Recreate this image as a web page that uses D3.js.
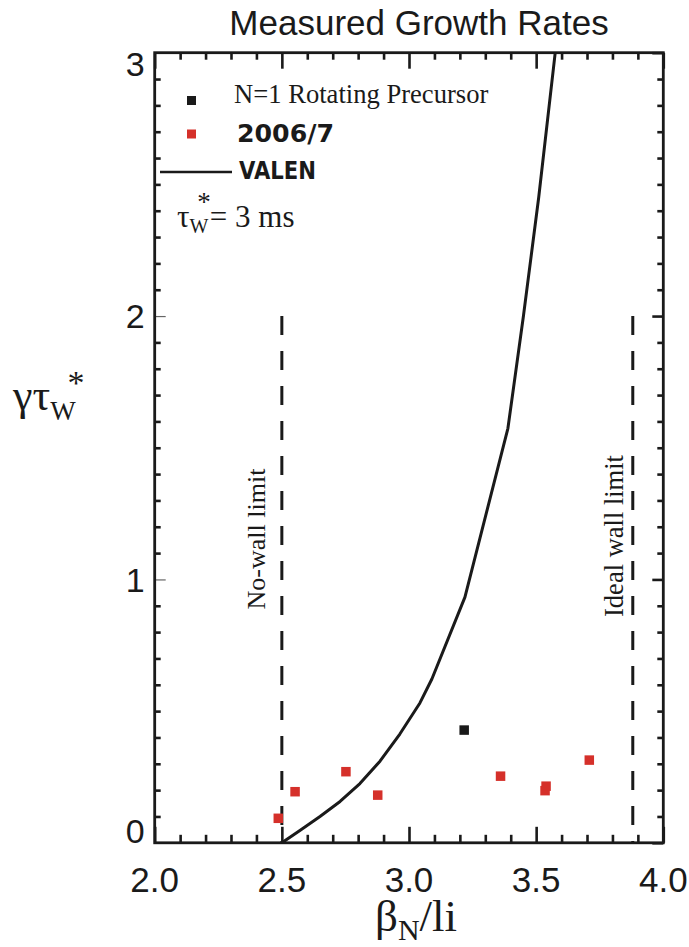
<!DOCTYPE html>
<html>
<head>
<meta charset="utf-8">
<script src="https://cdn.jsdelivr.net/npm/d3@7"></script>
<style>
  body { margin: 0; background: #fff; }
  svg text { fill: #1a1a1a; }
</style>
</head>
<body>
<div id="chart"></div>
<script>
// ---- data ----
const xTickValues = [2.0, 2.5, 3.0, 3.5, 4.0];
const xTickLabels = ["2.0", "2.5", "3.0", "3.5", "4.0"];
const yTickValues = [0, 1, 2, 3];
const yTickLabels = ["0", "1", "2", "3"];

const precursorBeta = [3.217];
const precursorGrowth = [0.428];

const measuredBeta = [2.486, 2.552, 2.752, 2.877, 3.360, 3.535, 3.539, 3.709];
const measuredGrowth = [0.093, 0.194, 0.270, 0.181, 0.253, 0.198, 0.215, 0.314];

const valenBeta = [2.5, 2.571, 2.650, 2.729, 2.807, 2.886, 2.964, 3.043, 3.090, 3.220, 3.389, 3.45, 3.51, 3.575, 3.60];
const valenGrowth = [0, 0.047, 0.100, 0.157, 0.225, 0.310, 0.413, 0.531, 0.622, 0.933, 1.574, 2.0, 2.45, 3.0, 3.2];

const wallBeta = [2.5, 3.88];
const wallTop = [2.0, 2.0];
const wallLabels = ["No-wall limit", "Ideal wall limit"];

let svg;
let canvasWidth = 689, canvasHeight = 947;
let margin = { top: 52.7, right: 25.7, bottom: 104.2, left: 154.7 };
let graphWidth = canvasWidth - margin.left - margin.right;
let graphHeight = canvasHeight - margin.top - margin.bottom;

const sans = "'Liberation Sans', Arial, Helvetica, sans-serif";
const serif = "'Liberation Serif', 'Times New Roman', serif";
const red = "#d5302a";
const ink = "#1a1a1a";

window.addEventListener("load", function () {
    svg = d3.select("#chart")
        .append("svg")
        .attr("width", canvasWidth)
        .attr("height", canvasHeight);

    const x = d3.scaleLinear().domain([2, 4]).range([0, graphWidth]);
    const y = d3.scaleLinear().domain([0, 3]).range([graphHeight, 0]);

    const g = svg.append("g")
        .attr("transform", `translate(${margin.left},${margin.top})`);

    g.append("clipPath").attr("id", "plotClip")
        .append("rect").attr("width", graphWidth).attr("height", graphHeight);

    const xMinor = d3.range(20, 41).map(d => d / 10).filter(d => !xTickValues.some(v => Math.abs(v - d) < 1e-6));
    const yMinor = d3.range(0, 31).map(d => d / 10).filter(d => !yTickValues.some(v => Math.abs(v - d) < 1e-6));

    // ticks point inward on all four sides
    function tickAxis(axis, sel, width, color) {
        sel.call(axis);
        sel.select(".domain").remove();
        sel.selectAll("line").attr("stroke", color || ink).attr("stroke-width", width || 2.6);
        sel.selectAll("text").remove();
    }
    tickAxis(d3.axisBottom(x).tickValues(xTickValues).tickSizeInner(-16).tickSizeOuter(0),
        g.append("g").attr("transform", `translate(0,${graphHeight})`));
    tickAxis(d3.axisBottom(x).tickValues(xMinor).tickSizeInner(-8).tickSizeOuter(0),
        g.append("g").attr("transform", `translate(0,${graphHeight})`));
    tickAxis(d3.axisTop(x).tickValues(xTickValues).tickSizeInner(-16).tickSizeOuter(0),
        g.append("g"));
    tickAxis(d3.axisTop(x).tickValues(xMinor).tickSizeInner(-7).tickSizeOuter(0),
        g.append("g"));
    tickAxis(d3.axisLeft(y).tickValues(yTickValues).tickSizeInner(-11).tickSizeOuter(0),
        g.append("g"), 1.2, "#666");
    tickAxis(d3.axisLeft(y).tickValues(yMinor).tickSizeInner(-6).tickSizeOuter(0),
        g.append("g"));
    tickAxis(d3.axisRight(y).tickValues(yTickValues).tickSizeInner(-11).tickSizeOuter(0),
        g.append("g").attr("transform", `translate(${graphWidth},0)`));
    tickAxis(d3.axisRight(y).tickValues(yMinor).tickSizeInner(-6).tickSizeOuter(0),
        g.append("g").attr("transform", `translate(${graphWidth},0)`));

    // frame
    g.append("rect")
        .attr("width", graphWidth).attr("height", graphHeight)
        .attr("fill", "none").attr("stroke", ink).attr("stroke-width", 2.8);

    // tick labels
    g.selectAll(".xlab").data(xTickValues).enter().append("text")
        .attr("x", d => x(d)).attr("y", graphHeight + 49)
        .attr("text-anchor", "middle")
        .style("font-family", sans).style("font-size", "35px")
        .text((d, i) => xTickLabels[i]);

    const cap = 24.5;
    g.selectAll(".ylab").data(yTickValues).enter().append("text")
        .attr("x", -10)
        .attr("y", d => Math.min(Math.max(y(d) + cap / 2, cap - 1.5), graphHeight + 0.5))
        .attr("text-anchor", "end")
        .style("font-family", sans).style("font-size", "34px")
        .text((d, i) => yTickLabels[i]);

    // wall limit lines
    g.selectAll(".wall").data(wallBeta).enter().append("line")
        .attr("x1", d => x(d)).attr("x2", d => x(d))
        .attr("y1", (d, i) => y(wallTop[i])).attr("y2", y(0))
        .attr("stroke", ink).attr("stroke-width", 3)
        .attr("stroke-dasharray", "19,16");

    g.selectAll(".wallLabel").data(wallBeta).enter().append("text")
        .attr("transform", (d, i) => `translate(${x(d) - (i ? 10 : 17)},${(i ? 536 : 539) - margin.top}) rotate(-90)`)
        .attr("text-anchor", "middle")
        .style("font-family", serif).style("font-size", (d, i) => i ? "26.5px" : "26px")
        .text((d, i) => wallLabels[i]);

    // VALEN curve
    const valen = valenBeta.map((b, i) => [b, valenGrowth[i]]);
    g.append("path")
        .datum(valen)
        .attr("clip-path", "url(#plotClip)")
        .attr("fill", "none").attr("stroke", ink).attr("stroke-width", 3)
        .attr("stroke-linejoin", "round")
        .attr("d", d3.line().x(d => x(d[0])).y(d => y(d[1])));

    // measured points
    const s = 9.5;
    g.selectAll(".measured").data(measuredBeta).enter().append("rect")
        .attr("x", d => x(d) - s / 2)
        .attr("y", (d, i) => y(measuredGrowth[i]) - s / 2)
        .attr("width", s).attr("height", s)
        .attr("fill", red);

    g.selectAll(".precursor").data(precursorBeta).enter().append("rect")
        .attr("x", d => x(d) - s / 2)
        .attr("y", (d, i) => y(precursorGrowth[i]) - s / 2)
        .attr("width", s).attr("height", s)
        .attr("fill", ink);

    // legend (page coordinates)
    svg.append("rect").attr("x", 187).attr("y", 96).attr("width", 9).attr("height", 9).attr("fill", ink);
    svg.append("text").attr("x", 234).attr("y", 103)
        .style("font-family", serif).style("font-size", "26.6px")
        .text("N=1 Rotating Precursor");

    svg.append("rect").attr("x", 187).attr("y", 129.5).attr("width", 9).attr("height", 9).attr("fill", red);
    svg.append("text").attr("x", 237).attr("y", 142)
        .attr("textLength", 97).attr("lengthAdjust", "spacingAndGlyphs")
        .style("font-family", "'DejaVu Sans', sans-serif").style("font-weight", "bold").style("font-size", "24px")
        .text("2006/7");

    svg.append("line").attr("x1", 160).attr("x2", 232).attr("y1", 172).attr("y2", 172)
        .attr("stroke", ink).attr("stroke-width", 2.6);
    svg.append("text").attr("x", 239).attr("y", 179)
        .attr("textLength", 77).attr("lengthAdjust", "spacingAndGlyphs")
        .style("font-family", "'DejaVu Sans', sans-serif").style("font-weight", "bold").style("font-size", "24px")
        .text("VALEN");

    const tau = svg.append("text").attr("x", 177).attr("y", 227)
        .style("font-family", serif).style("font-size", "31px");
    tau.append("tspan").text("τ");
    tau.append("tspan").attr("dy", 6).style("font-size", "20px").text("W");
    tau.append("tspan").attr("dx", -11).attr("dy", -22).style("font-size", "27px").text("*");
    tau.append("tspan").attr("dx", -1).attr("dy", 16).text("= 3 ms");

    // titles
    svg.append("text")
        .attr("x", 419).attr("y", 35)
        .attr("text-anchor", "middle")
        .style("font-family", sans).style("font-size", "35px")
        .text("Measured Growth Rates");

    const xt = svg.append("text").attr("x", 375).attr("y", 931)
        .style("font-family", serif).style("font-size", "45px");
    xt.append("tspan").text("β");
    xt.append("tspan").attr("dy", 9).style("font-size", "30px").text("N");
    xt.append("tspan").attr("dy", -9).text("/li");

    const yt = svg.append("text").attr("x", 13).attr("y", 410)
        .style("font-family", serif).style("font-size", "44px");
    yt.append("tspan").text("γτ");
    yt.append("tspan").attr("dy", 10).style("font-size", "27px").text("W");
    yt.append("tspan").attr("dx", -8).attr("dy", -26).style("font-size", "34px").text("*");
});
</script>
</body>
</html>
